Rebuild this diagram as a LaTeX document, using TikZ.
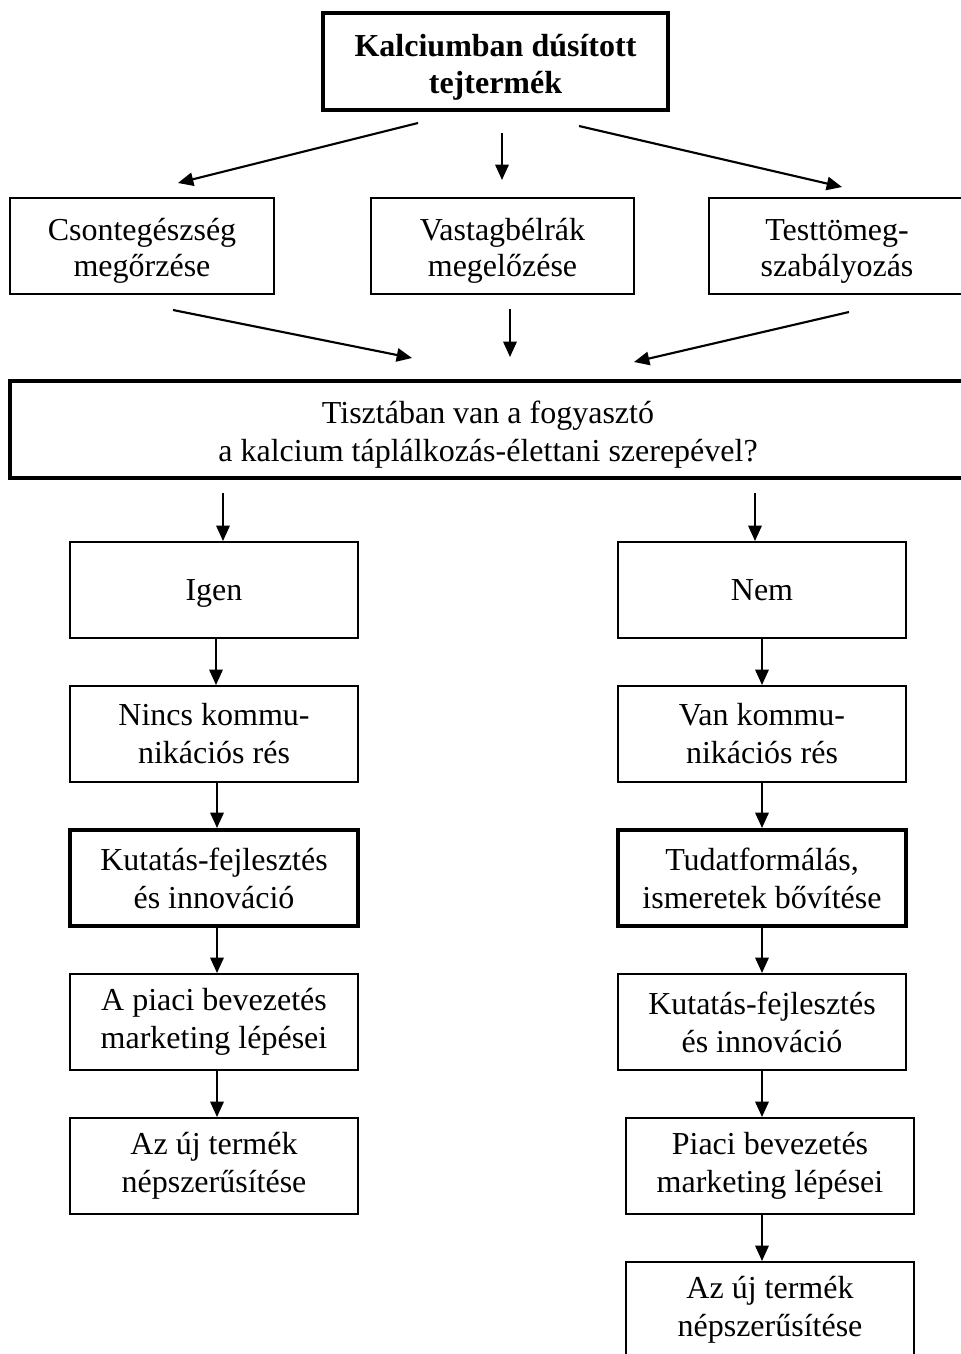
\documentclass[tikz,border=0pt]{standalone}
\usepackage{fontspec}
\setmainfont{Liberation Serif}
\usetikzlibrary{arrows.meta}
\newcommand{\dnt}[2][4pt]{\raisebox{-#1}[\height][\depth]{\begin{tabular}{@{}c@{}}#2\end{tabular}}}
\begin{document}
\begin{tikzpicture}[x=0.75pt,y=-0.75pt,
  box/.style={draw,line width=1.5pt,rectangle,inner sep=0pt,align=center,
    font=\fontsize{24}{28.5}\selectfont,minimum height=96*0.75pt},
  thickbox/.style={box,line width=3pt},
  arr/.style={line width=1.6pt,-{Triangle[length=11.5pt,width=10pt]}}]
\useasboundingbox (0,0) rectangle (961,1354);
% top
\node[thickbox,minimum width=345*0.75pt,minimum height=97*0.75pt] (top) at (495.5,61.5) {\dnt[4.5pt]{\bfseries Kalciumban dúsított\\[-1pt]\bfseries tejtermék}};
% row 2
\node[box,minimum width=264*0.75pt] (bone) at (142,246) {\dnt[4pt]{Csontegészség\\[-1.5pt]megőrzése}};
\node[box,minimum width=263*0.75pt] (colon) at (502.5,246) {\dnt[4pt]{Vastagbélrák\\[-1.5pt]megelőzése}};
\node[box,minimum width=256*0.75pt] (weight) at (837,246) {\dnt[4pt]{Testtömeg-\\[-1.5pt]szabályozás}};
% question
\node[thickbox,minimum width=956*0.75pt,minimum height=97*0.75pt] (q) at (488,429.5) {\dnt[3.75pt]{Tisztában van a fogyasztó\\a kalcium táplálkozás-élettani szerepével?}};
% left column
\node[box,minimum width=288*0.75pt] (igen) at (214,590) {\dnt[2.25pt]{Igen}};
\node[box,minimum width=288*0.75pt] (nincs) at (214,734) {Nincs kommu-\\nikációs rés};
\node[thickbox,minimum width=288*0.75pt] (kfl) at (214,878) {Kutatás-fejlesztés\\és innováció};
\node[box,minimum width=288*0.75pt] (piacl) at (214,1022) {A piaci bevezetés\\marketing lépései};
\node[box,minimum width=288*0.75pt] (ujl) at (214,1166) {Az új termék\\népszerűsítése};
% right column
\node[box,minimum width=288*0.75pt] (nem) at (762,590) {\dnt[2.25pt]{Nem}};
\node[box,minimum width=288*0.75pt] (van) at (762,734) {Van kommu-\\nikációs rés};
\node[thickbox,minimum width=288*0.75pt] (tudat) at (762,878) {Tudatformálás,\\ismeretek bővítése};
\node[box,minimum width=288*0.75pt] (kfr) at (762,1022) {Kutatás-fejlesztés\\és innováció};
\node[box,minimum width=288*0.75pt] (piacr) at (770,1166) {Piaci bevezetés\\marketing lépései};
\node[box,minimum width=288*0.75pt] (ujr) at (770,1310) {Az új termék\\népszerűsítése};
% free arrow ends
\coordinate (t1) at (418,123); \coordinate (t1e) at (178,183);
\coordinate (t2) at (502,133); \coordinate (t2e) at (502,180);
\coordinate (t3) at (579,126); \coordinate (t3e) at (842,187);
\coordinate (b1) at (173,310); \coordinate (b1e) at (412,358);
\coordinate (b2) at (510,309); \coordinate (b2e) at (510,357);
\coordinate (b3) at (849,312); \coordinate (b3e) at (634,362);
\coordinate (q1) at (223,493); \coordinate (q2) at (755,493);
\draw[arr] (t1) -- (t1e);
\draw[arr] (t2) -- (t2e);
\draw[arr] (t3) -- (t3e);
\draw[arr] (b1) -- (b1e);
\draw[arr] (b2) -- (b2e);
\draw[arr] (b3) -- (b3e);
\draw[arr] (q1) -- (q1 |- igen.north);
\draw[arr] (q2) -- (q2 |- nem.north);
\draw[arr] ([xshift=2*0.75pt]igen.south) -- ([xshift=2*0.75pt]nincs.north);
\draw[arr] ([xshift=3*0.75pt]nincs.south) -- ([xshift=3*0.75pt]kfl.north);
\draw[arr] ([xshift=3*0.75pt]kfl.south) -- ([xshift=3*0.75pt]piacl.north);
\draw[arr] ([xshift=3*0.75pt]piacl.south) -- ([xshift=3*0.75pt]ujl.north);
\draw[arr] (nem.south) -- (van.north);
\draw[arr] (van.south) -- (tudat.north);
\draw[arr] (tudat.south) -- (kfr.north);
\draw[arr] (kfr.south) -- (kfr.south |- piacr.north);
\draw[arr] ([xshift=-8*0.75pt]piacr.south) -- ([xshift=-8*0.75pt]ujr.north);
\end{tikzpicture}
\end{document}
